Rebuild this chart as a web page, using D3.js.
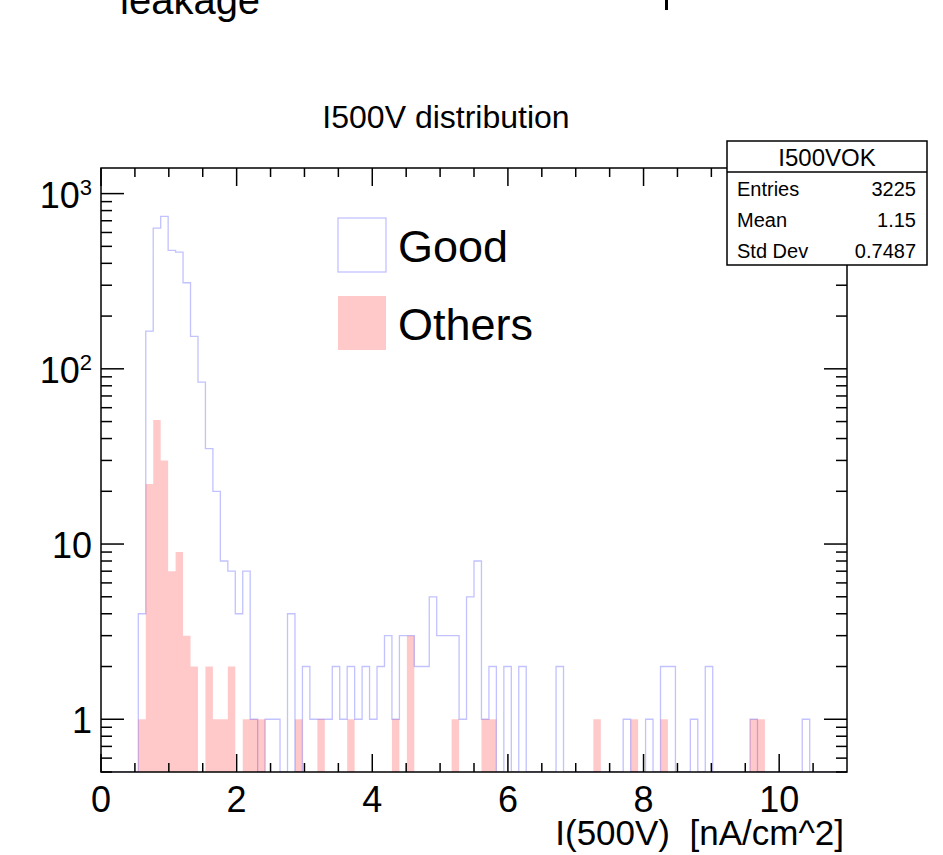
<!DOCTYPE html>
<html>
<head>
  <meta charset="UTF-8">
  <title>I500V distribution</title>
  <style>
    body{
        margin: 0;
        background-color: #fff;
    }
    text{
        font-family: "Liberation Sans", Arial, Helvetica, sans-serif;
        fill: #000;
    }
  </style>
</head>
<body>
<svg></svg>
<script src="https://cdn.jsdelivr.net/npm/d3@7"></script>

<script>

// histogram binning: 100 bins between 0 and 11
let xMin = 0, xMax = 11, nBins = 100;

// "Good" counts per bin
let goodCounts = [
    0, 0, 0, 0, 0, 4, 164, 636, 742, 474,
    464, 310, 153, 84, 35, 20, 8, 7, 4, 7,
    1, 0, 1, 1, 0, 4, 0, 2, 1, 1,
    1, 2, 1, 2, 1, 2, 1, 2, 3, 1,
    3, 3, 2, 2, 5, 3, 3, 3, 1, 5,
    8, 1, 2, 0, 2, 0, 2, 0, 0, 0,
    0, 2, 0, 0, 0, 0, 0, 0, 0, 0,
    1, 0, 0, 1, 0, 2, 2, 0, 0, 1,
    0, 2, 0, 0, 0, 0, 0, 1, 0, 0,
    0, 0, 0, 0, 1, 0, 0, 0, 0, 0
];

// "Others" counts per bin
let otherCounts = [
    0, 0, 0, 0, 0, 1, 22, 51, 30, 7,
    9, 3, 2, 0, 2, 1, 1, 2, 0, 1,
    1, 1, 0, 0, 0, 0, 1, 0, 0, 1,
    0, 0, 0, 1, 0, 0, 0, 0, 0, 1,
    0, 3, 0, 0, 0, 0, 0, 1, 0, 0,
    0, 1, 1, 0, 0, 0, 0, 0, 0, 0,
    0, 0, 0, 0, 0, 0, 1, 0, 0, 0,
    0, 1, 0, 0, 0, 1, 0, 0, 0, 0,
    0, 0, 0, 0, 0, 0, 0, 1, 1, 0,
    0, 0, 0, 0, 0, 0, 0, 0, 0, 0
];

let xMajorTicks = [0, 2, 4, 6, 8, 10];
let xTickLabels = ["0", "2", "4", "6", "8", "10"];
let yMajorTicks = [1, 10, 100, 1000];
let yLabelBase = ["1", "10", "10", "10"];
let yLabelExp = ["", "", "2", "3"];

let statNames = ["Entries", "Mean", "Std Dev"];
let statValues = ["3225", "1.15", "0.7487"];
let legendNames = ["Good", "Others"];

let width = 943, height = 855;
let blue = "#c2c2ff", pink = "rgba(255,0,0,0.21)";

let svg = d3.select("svg")
    .attr("width", width)
    .attr("height", height);

let fLeft = 101, fRight = 847, fTop = 168, fBottom = 772;

let x = d3.scaleLinear()
    .domain([xMin, xMax])
    .range([fLeft, fRight]);

let y = d3.scaleLog()
    .domain([0.5, 1400])
    .range([fBottom, fTop]);

let binW = (xMax - xMin) / nBins;
let yPix = v => v > 0 ? y(v) : fBottom;

// step points: one per bin left edge, plus the closing edge
function steps(counts){
    let pts = counts.map((c, i) => ({x: xMin + i * binW, v: c}));
    pts.push({x: xMax, v: counts[counts.length - 1]});
    return pts;
}

svg.append("clipPath").attr("id", "frame")
    .append("rect")
    .attr("x", fLeft).attr("y", fTop)
    .attr("width", fRight - fLeft).attr("height", fBottom - fTop);

let plot = svg.append("g").attr("clip-path", "url(#frame)");

// Good: outline only
let goodLine = d3.line()
    .x(d => x(d.x))
    .y(d => yPix(d.v))
    .curve(d3.curveStepAfter);

plot.append("path")
    .attr("d", goodLine(steps(goodCounts)))
    .attr("fill", "none")
    .attr("stroke", blue)
    .attr("stroke-width", 1.3);

// Others: filled, semi transparent
let otherArea = d3.area()
    .x(d => x(d.x))
    .y0(fBottom)
    .y1(d => yPix(d.v))
    .curve(d3.curveStepAfter);

plot.append("path")
    .attr("d", otherArea(steps(otherCounts)))
    .attr("fill", pink)
    .attr("stroke", "none");

// frame
svg.append("rect")
    .attr("x", fLeft).attr("y", fTop)
    .attr("width", fRight - fLeft).attr("height", fBottom - fTop)
    .attr("fill", "none")
    .attr("stroke", "#000")
    .attr("stroke-width", 1.5);

// x ticks (bottom + top, pointing inwards)
let xMinorTicks = d3.range(0.5, xMax, 0.5).filter(v => xMajorTicks.indexOf(v) < 0);
let xTicks = xMajorTicks.map(v => ({v: v, len: 18}))
    .concat(xMinorTicks.map(v => ({v: v, len: 9})));

let tickG = svg.append("g")
    .attr("stroke", "#000")
    .attr("stroke-width", 1.5);

tickG.selectAll(".xb")
    .data(xTicks)
    .enter().append("line")
    .attr("x1", d => x(d.v)).attr("x2", d => x(d.v))
    .attr("y1", fBottom).attr("y2", d => fBottom - d.len);

tickG.selectAll(".xt")
    .data(xTicks)
    .enter().append("line")
    .attr("x1", d => x(d.v)).attr("x2", d => x(d.v))
    .attr("y1", fTop).attr("y2", d => fTop + d.len);

// y ticks (left + right)
let yMinorTicks = [];
[0.1, 1, 10, 100, 1000].forEach(dec => {
    for (let k = 2; k <= 9; k++){
        let v = dec * k;
        if (v >= y.domain()[0] && v <= y.domain()[1]) yMinorTicks.push(v);
    }
});
let yTicks = yMajorTicks.map(v => ({v: v, len: 23}))
    .concat(yMinorTicks.map(v => ({v: v, len: 11})));

tickG.selectAll(".yl")
    .data(yTicks)
    .enter().append("line")
    .attr("x1", fLeft).attr("x2", d => fLeft + d.len)
    .attr("y1", d => y(d.v)).attr("y2", d => y(d.v));

tickG.selectAll(".yr")
    .data(yTicks)
    .enter().append("line")
    .attr("x1", fRight).attr("x2", d => fRight - d.len)
    .attr("y1", d => y(d.v)).attr("y2", d => y(d.v));

// x labels
svg.selectAll(".xlab")
    .data(xMajorTicks)
    .enter().append("text")
    .attr("x", d => x(d))
    .attr("y", 812)
    .attr("text-anchor", "middle")
    .attr("font-size", 36)
    .text((d, i) => xTickLabels[i]);

// y labels with superscript exponents
let ylab = svg.selectAll(".ylab")
    .data(yMajorTicks)
    .enter().append("text")
    .attr("x", 92)
    .attr("y", d => y(d) + 14)
    .attr("text-anchor", "end")
    .attr("font-size", 36);

ylab.append("tspan")
    .text((d, i) => yLabelBase[i]);

ylab.filter((d, i) => yLabelExp[i] !== "")
    .append("tspan")
    .attr("font-size", 22)
    .attr("dy", -13)
    .text(d => yLabelExp[yMajorTicks.indexOf(d)]);

// axis title
svg.append("text")
    .attr("x", 844)
    .attr("y", 845)
    .attr("text-anchor", "end")
    .attr("font-size", 35)
    .style("white-space", "pre")
    .text("I(500V)  [nA/cm^2]");

// title
svg.append("text")
    .attr("x", 446)
    .attr("y", 128)
    .attr("text-anchor", "middle")
    .attr("font-size", 32)
    .text("I500V distribution");

// cut text at the top of the page
svg.append("text")
    .attr("x", 120)
    .attr("y", 14)
    .attr("font-size", 40)
    .text("leakage");

svg.append("rect")
    .attr("x", 665).attr("y", 0)
    .attr("width", 3).attr("height", 10)
    .attr("fill", "#000");

// legend
let legend = svg.append("g");
legend.append("rect")
    .attr("x", 338).attr("y", 218)
    .attr("width", 48).attr("height", 54)
    .attr("fill", "none")
    .attr("stroke", blue)
    .attr("stroke-width", 1.3);
legend.append("rect")
    .attr("x", 338).attr("y", 296)
    .attr("width", 48).attr("height", 54)
    .attr("fill", pink);
legend.selectAll("text")
    .data(legendNames)
    .enter().append("text")
    .attr("x", 398)
    .attr("y", (d, i) => 262 + i * 78)
    .attr("font-size", 45)
    .text(d => d);

// stats box
let stats = svg.append("g");
stats.append("rect")
    .attr("x", 727).attr("y", 141)
    .attr("width", 200).attr("height", 124)
    .attr("fill", "#fff")
    .attr("stroke", "#000")
    .attr("stroke-width", 1.5);
stats.append("line")
    .attr("x1", 727).attr("x2", 927)
    .attr("y1", 172).attr("y2", 172)
    .attr("stroke", "#000")
    .attr("stroke-width", 1.5);
stats.append("text")
    .attr("x", 827).attr("y", 166)
    .attr("text-anchor", "middle")
    .attr("font-size", 24)
    .text("I500VOK");
stats.selectAll(".sn")
    .data(statNames)
    .enter().append("text")
    .attr("x", 737)
    .attr("y", (d, i) => 196 + i * 31)
    .attr("font-size", 20)
    .text(d => d);
stats.selectAll(".sv")
    .data(statValues)
    .enter().append("text")
    .attr("x", 916)
    .attr("y", (d, i) => 196 + i * 31)
    .attr("text-anchor", "end")
    .attr("font-size", 20)
    .text(d => d);

</script>

</body>
</html>
